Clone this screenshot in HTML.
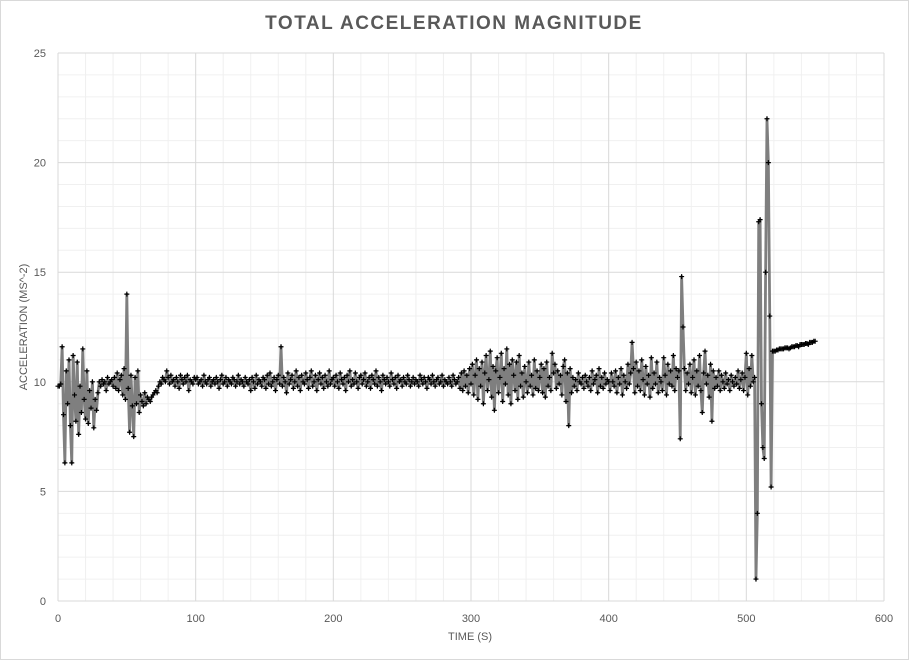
<!DOCTYPE html>
<html><head><meta charset="utf-8"><style>
html,body{margin:0;padding:0;background:#fff;}
svg{display:block;font-family:"Liberation Sans",sans-serif;}
</style></head><body>
<svg id="chart" width="909" height="660">
<rect x="0.5" y="0.5" width="908" height="659" fill="#fff" stroke="#d9d9d9"/>
<text x="454" y="29" text-anchor="middle" font-size="19" font-weight="bold" fill="#595959" letter-spacing="1.5">TOTAL ACCELERATION MAGNITUDE</text>
<g id="grid"></g>
<g id="axes"></g>
<g id="series"></g>
<text x="470" y="640" text-anchor="middle" font-size="11" fill="#595959">TIME (S)</text>
<text transform="translate(27,327) rotate(-90)" text-anchor="middle" font-size="11" fill="#595959">ACCELERATION (MS^-2)</text>
</svg>
<script>
const xTicks=[0,100,200,300,400,500,600];
const yTicks=[0,5,10,15,20,25];
const seg0=[9.8,9.8,9.9,11.6,8.5,6.3,10.5,9.0,11.0,8.0,6.3,11.2,9.4,8.2,10.9,7.6,9.8,8.6,11.5,9.2,8.3,10.5,8.1,9.6,8.8,10.0,7.9,9.2,8.7,9.5,10.0];
const seg1=[9.8,10.1,9.9,10.0,9.6,10.2,9.9,10.0,10.1,9.8,10.2,9.7,10.4,9.6,10.1,
10.3,9.4,10.6,9.2,14.0,9.7,7.7,10.3,8.9,7.5,10.2,9.0,10.5,8.6,9.4,
9.1,8.9,9.5,9.0,9.3,9.2,9.1,9.3,9.4,9.5,9.6,9.5,9.8,10.0,9.9,10.2,10.1,10.0,10.5,10.2,
9.9,10.3,10.0,10.1,9.8,10.2,10.0,9.7,10.3,10.1,9.9,10.2,10.0,10.3,9.6,10.1,10.0,9.9,10.2,10.1];
const seg2=[10.2,9.9,10.0,10.1,9.8,10.3,10.0,9.9,10.1,10.2,
9.8,10.0,10.1,9.9,10.2,10.0,9.7,10.1,10.3,9.9,
10.0,10.2,9.8,10.1,10.0,9.9,10.2,10.1,9.8,10.0,
10.3,9.9,10.1,10.0,9.8,10.2,10.0,9.9,10.1,9.6,
10.2,10.0,9.7,10.3,9.9,10.1,10.0,9.8,10.2,10.1,
9.7,10.3,9.9,10.4,9.8,10.0,10.2,9.6,10.1,10.3,
9.9,11.6,9.8,10.2,10.0,9.5,10.4,9.9,10.1,10.3,
9.7,10.0,10.5,9.8,10.2,9.6,10.3,10.0,9.9,10.4,
10.1,9.7,10.2,10.5,9.8,10.0,10.3,9.6,10.1,10.4,
9.9,10.2,9.7,10.3,10.0,9.8,10.5,9.9,10.1,10.2];
const seg3=[9.8,10.3,10.0,9.7,10.4,10.1,9.9,10.2,9.6,10.3,
10.0,10.5,9.8,10.1,9.9,10.4,10.0,9.7,10.2,10.3,
9.9,10.1,10.4,9.8,10.0,10.2,9.7,10.3,10.1,9.9,
10.5,9.8,10.2,10.0,9.6,10.3,10.1,9.9,10.2,10.0,
9.8,10.4,10.1,9.9,10.2,9.7,10.3,10.0,10.1,9.8,
10.2,10.0,9.9,10.3,10.1,9.8,10.0,10.2,9.9,10.1,
10.0,9.8,10.3,10.1,9.9,10.2,10.0,9.7,10.2,10.1,
9.9,10.3,10.0,9.8,10.1,10.2,9.9,10.0,10.3,9.8,
10.1,10.0,9.9,10.2,10.0,9.8,10.3,10.1,9.9,10.0,
10.2,9.7,10.4,9.6,10.5,9.8,10.3,9.5,10.6,9.9];
const seg4=[10.8,9.4,10.3,11.0,9.2,10.6,9.8,10.9,9.0,10.4,
11.2,9.6,10.1,11.4,9.3,10.7,8.7,10.5,11.1,9.5,
10.2,11.3,9.1,10.6,9.9,11.5,9.4,10.8,9.0,11.0,
10.3,9.6,10.9,9.2,11.2,9.8,10.4,9.3,10.7,10.0,
9.5,10.9,9.8,10.3,9.4,11.0,9.7,10.5,9.6,10.2,
10.8,9.5,10.6,9.3,10.9,9.8,10.2,9.6,11.3,10.4,
10.8,9.7,10.5,9.9,10.3,9.4,10.7,11.0,9.1,10.4,
8.0,10.6,9.5,10.2,9.8,10.1,9.6,10.4,10.0,9.9,
10.2,9.7,10.3,10.0,9.8,10.2,9.6,10.5,9.9,10.1,
10.3,9.5,10.6,9.8,10.2,9.7,10.4,9.9,10.1,10.0];
const seg5=[9.6,10.4,10.0,9.8,10.5,9.5,10.2,9.9,10.6,9.4,
10.3,10.0,9.7,10.8,9.9,10.4,11.8,10.6,9.5,10.9,
9.8,10.5,9.6,11.0,10.1,9.4,10.7,9.9,10.3,9.3,
11.1,9.7,10.4,9.9,10.9,9.5,10.2,10.0,9.6,11.1,
10.3,9.4,10.8,9.9,10.5,9.8,11.2,9.6,10.6,10.2];
const seg6=[10.5,7.4,14.8,12.5,10.6,9.6,10.4,9.9,10.8,9.5,
10.2,11.0,9.4,10.5,9.8,11.2,9.6,8.6,10.4,11.4,
9.9,10.3,9.3,10.8,8.2,10.5,9.7,10.2,9.8,10.5,
9.6,10.3,10.0,9.7,10.4,9.9,10.1,9.6,10.3,10.0,
9.8,10.2,9.9,10.5,9.7,10.1,10.4,9.6,10.2,11.3,
9.4,10.6,9.8,11.2,10.0];
const seg7=[10.2,1.0,4.0,17.3,17.4,9.0,7.0,6.5,15.0,22.0,20.0,13.0,5.2,11.4];
const seg8=[11.4,11.4,11.45,11.45,11.5,11.5,11.5,11.5,11.55,11.55,11.55,11.5,11.55,11.6,11.6,11.6,11.65,11.65,11.6,11.7,11.7,11.7,11.7,11.75,11.75,11.7,11.8,11.8,11.8,11.85,11.85];
const accel=[].concat(seg0,seg1,seg2,seg3,seg4,seg5,seg6,seg7,seg8);
const sampleStep=1; // seconds per sample

const X0=58,X1=884,Y0=601,Y1=53;
const xs=t=>X0+(t-0)/(600-0)*(X1-X0);
const ys=v=>Y0-(v-0)/(25-0)*(Y0-Y1);
const NS="http://www.w3.org/2000/svg";
function mk(tag,attrs,parent){const e=document.createElementNS(NS,tag);for(const k in attrs)e.setAttribute(k,attrs[k]);parent.appendChild(e);return e;}
const grid=document.getElementById('grid'),axes=document.getElementById('axes'),series=document.getElementById('series');
for(let v=1;v<25;v++){if(v%5===0)continue;
 const l=mk('line',{x1:X0,x2:X1,y1:ys(v),y2:ys(v),stroke:'#f0f0f0','stroke-width':1},grid);
 
 }
for(let t=20;t<600;t+=20){if(t%100===0)continue;
 const l=mk('line',{x1:xs(t),x2:xs(t),y1:Y1,y2:Y0,stroke:'#f0f0f0','stroke-width':1},grid);
 
 }
yTicks.forEach(v=>{
 const l=mk('line',{x1:X0,x2:X1,y1:ys(v),y2:ys(v),stroke:'#d9d9d9','stroke-width':1},grid);
 
 
 const t=mk('text',{x:X0-12,y:ys(v)+4,'text-anchor':'end','font-size':11,fill:'#595959'},axes);
 t.textContent=v;
 
 });
xTicks.forEach(v=>{
 const l=mk('line',{x1:xs(v),x2:xs(v),y1:Y1,y2:Y0,stroke:'#d9d9d9','stroke-width':1},grid);
 
 
 const t=mk('text',{x:xs(v),y:Y0+21,'text-anchor':'middle','font-size':11,fill:'#595959'},axes);
 t.textContent=v;
 
 });
const pts=accel.map((v,i)=>xs(i*sampleStep).toFixed(2)+','+ys(v).toFixed(2)).join(' ');
const line=mk('polyline',{points:pts,fill:'none',stroke:'#7f7f7f','stroke-width':2.8,'stroke-linejoin':'round'},series);


let d='';
accel.forEach((v,i)=>{const x=xs(i*sampleStep),y=ys(v);d+=`M${(x-2.5).toFixed(2)},${y.toFixed(2)}h5M${x.toFixed(2)},${(y-2.5).toFixed(2)}v5`;});
const mks=mk('path',{d:d,stroke:'#000','stroke-width':1.2,fill:'none'},series);


</script>
</body></html>
